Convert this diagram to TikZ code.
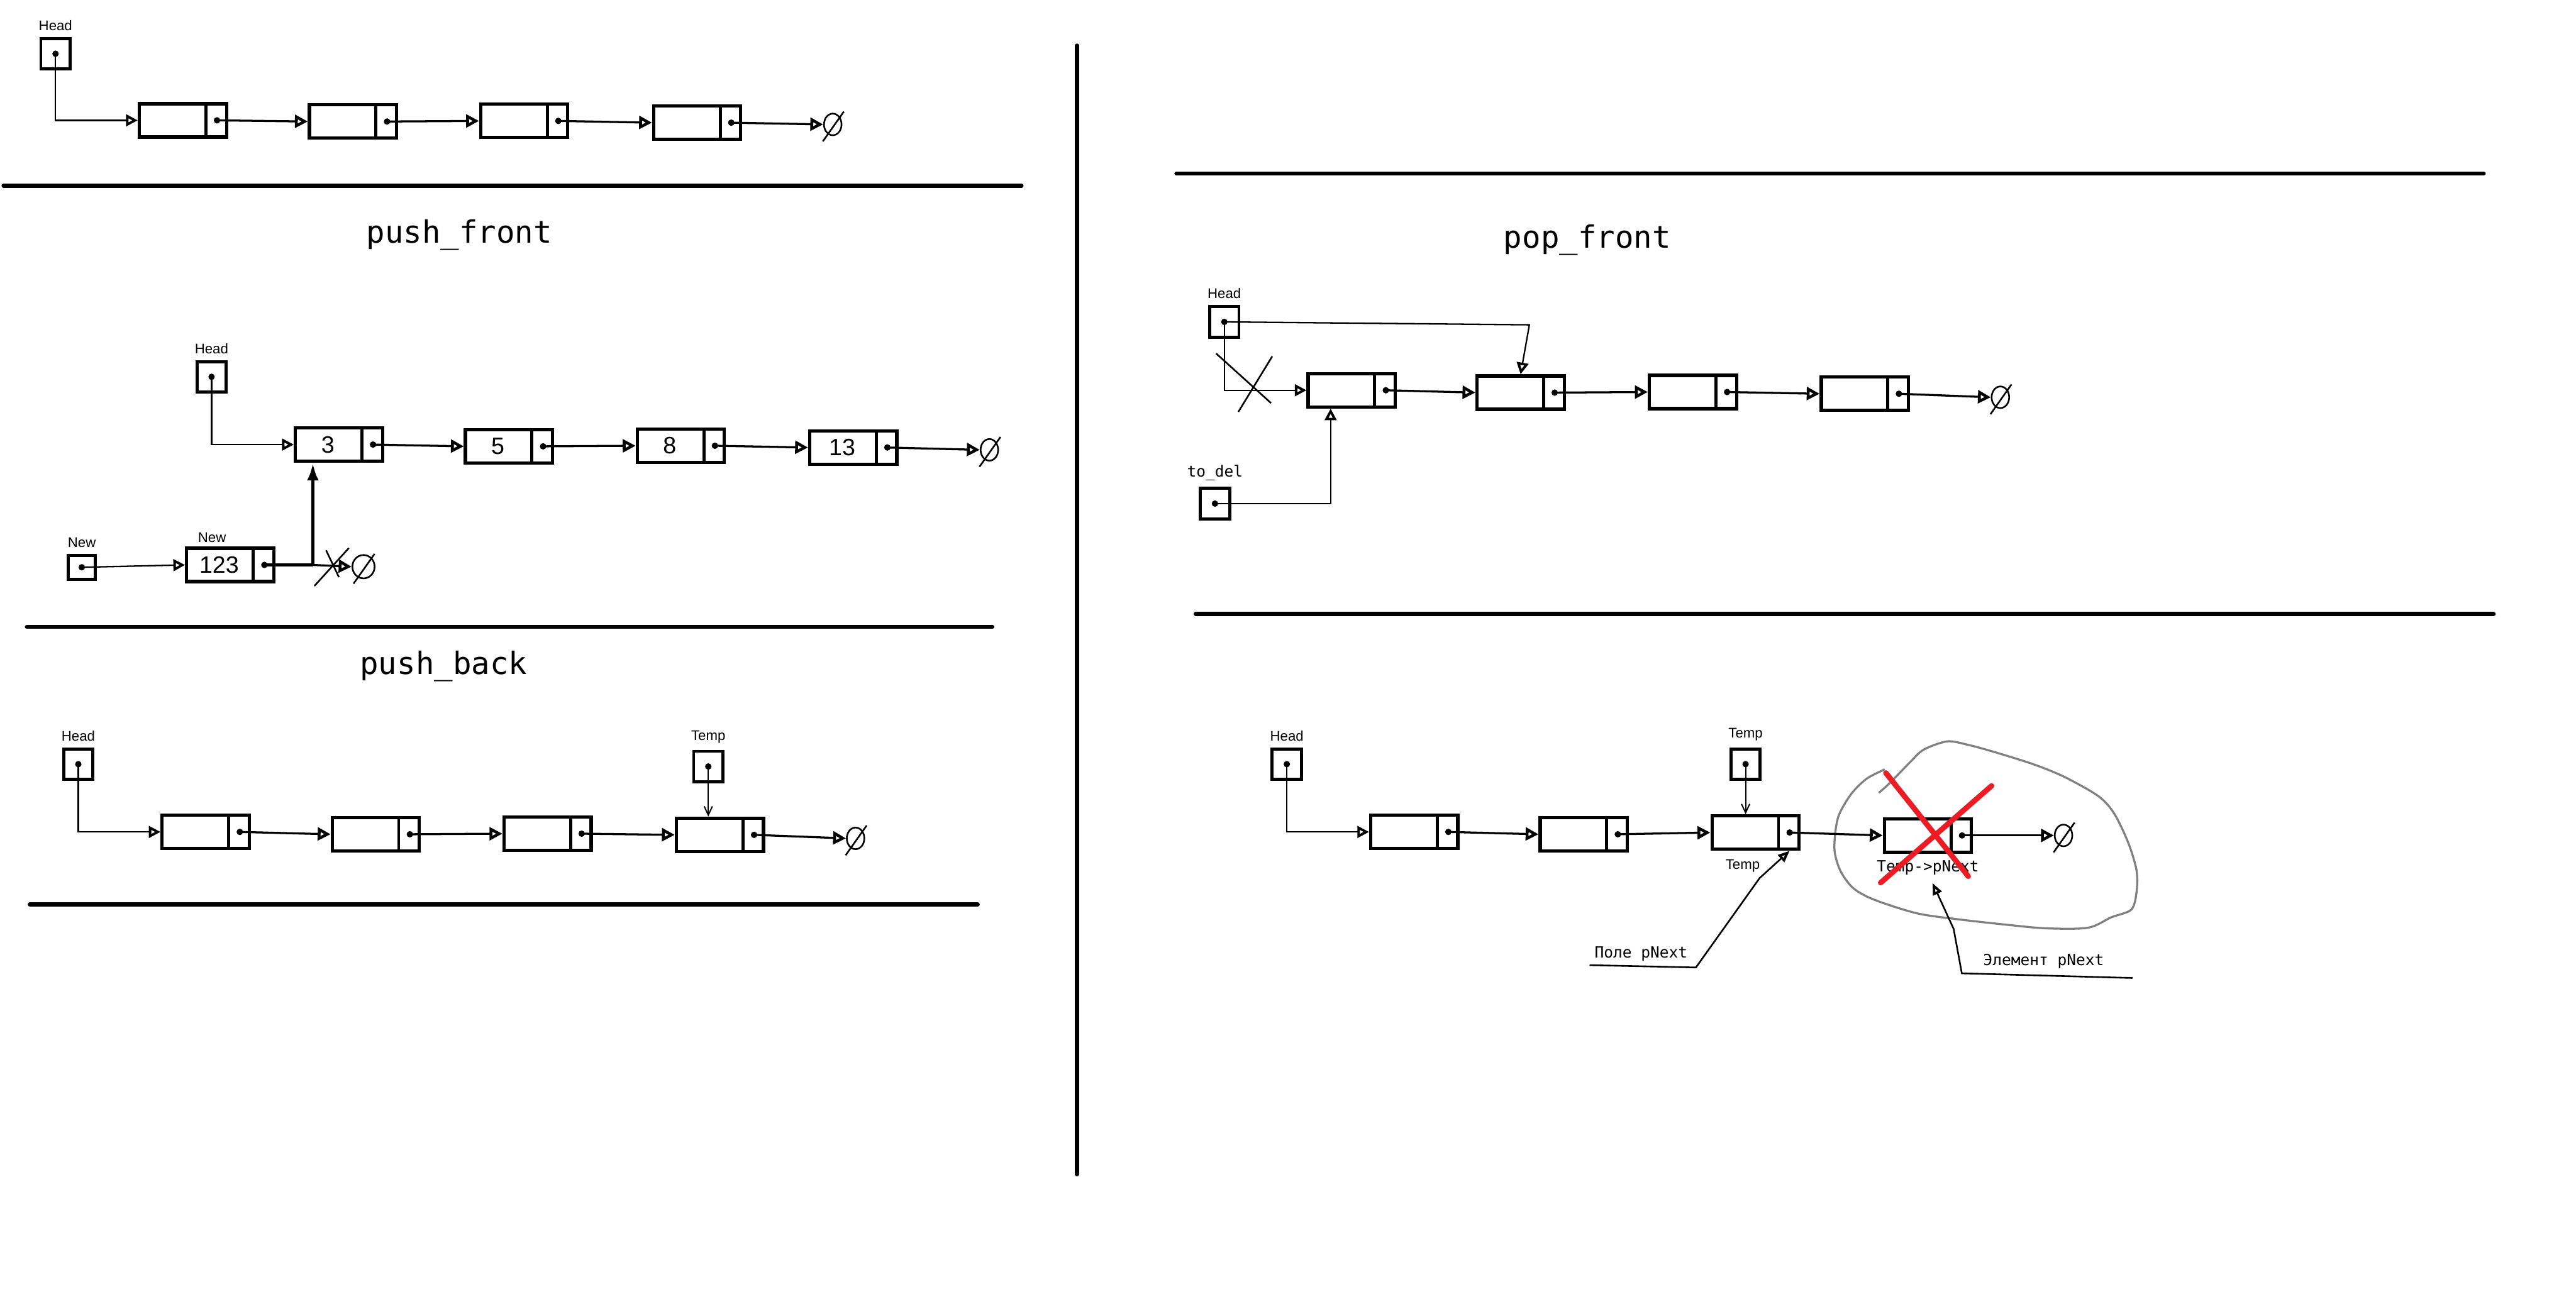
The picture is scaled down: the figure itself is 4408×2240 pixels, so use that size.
\documentclass[tikz,border=0pt]{standalone}
\usepackage{fontspec}
\usepackage{xcolor}
\usetikzlibrary{arrows.meta, positioning, shapes.geometric, calc}
\newfontfamily\monofam{DejaVu Sans Mono}
\newfontfamily\sansfam{Liberation Sans}
\definecolor{paintred}{RGB}{237,28,36}
\definecolor{blobgray}{RGB}{128,128,128}

\tikzset{
  item/.style={draw, line width=1.6pt, minimum width=1.49cm, minimum height=.57cm, inner sep=0pt},
  ptrbox/.style={draw, line width=1.5pt, minimum width=.5cm, minimum height=.52cm, inner sep=0pt},
  val/.style={font=\sansfam\fontsize{11.5}{12}\selectfont, inner sep=0pt},
  lbl/.style={font=\sansfam\fontsize{6.8}{8}\selectfont, inner sep=1pt},
  mlbl/.style={font=\monofam\fontsize{7.5}{9}\selectfont, inner sep=1pt},
  title/.style={font=\monofam\fontsize{15}{18}\selectfont},
  nil/.style={ellipse, draw, line width=.8pt, minimum width=.3cm, minimum height=.37cm, inner sep=0pt},
  link/.style={line width=1pt, -{Triangle[open, length=.22cm, width=.22cm, line width=1.4pt]}},
  ptrlink/.style={line width=.7pt, -{Triangle[open, length=.2cm, width=.2cm, line width=1.2pt]}},
  thinptr/.style={line width=.6pt, -{Straight Barb[length=.15cm, width=.14cm]}},
  newlink/.style={line width=1.7pt, -{Latex[length=.3cm, width=.2cm]}},
  note/.style={line width=.8pt, -{Triangle[open, length=.2cm, width=.16cm, line width=1.2pt]}},
  divline/.style={line width=2pt, line cap=round},
  strike/.style={line width=.8pt},
}

% list element: name, position, value
\newcommand\listnode[3]{%
  \node[item] (#1) at (#2) {};
  \node[val] (v#1) at ([xshift=-.19cm]#1.center) {#3};
  \draw[line width=1.5pt] ([xshift=-.38cm]#1.north east) -- ([xshift=-.38cm]#1.south east);
  \coordinate (p#1) at ([xshift=-.19cm]#1.east);
  \fill (p#1) circle (.055cm);
}
% pointer variable: [label style] name, position, label
\newcommand\ptrnode[4][lbl]{%
  \node[ptrbox] (#2) at (#3) {};
  \node[#1, above=2pt of #2] (l#2) {#4};
  \fill (#2.center) circle (.055cm);
}
% null
\newcommand\nilnode[3][]{%
  \node[nil, #1] (#2) at (#3) {};
  \draw[line width=.8pt] ([shift={(-17,29)}]#2.center) -- ([shift={(19,-22)}]#2.center);
}

\begin{document}
\begin{tikzpicture}[x=.01cm, y=-.01cm]
\useasboundingbox (0,0) rectangle (4408,2240);

%separators
\draw[divline] (6,318) -- (1748,318);
\draw[divline] (46,1073) -- (1698,1073);
\draw[divline] (51,1548) -- (1673,1548);
\draw[divline] (1843,78) -- (1843,2010);
\draw[divline] (2013,297) -- (4250,297);
\draw[divline] (2046,1051) -- (4267,1051);

%list
\ptrnode{hA}{95,92}{Head}
\listnode{a1}{313,206}{}
\listnode{a2}{604,208}{}
\listnode{a3}{897,207}{}
\listnode{a4}{1193,210}{}
\nilnode{nA}{1425,213}
\draw[ptrlink] (hA.center) |- (a1.west);
\foreach \i/\j in {a1/a2, a2/a3, a3/a4} \draw[link] (p\i) -- (\j.west);
\draw[link] (pa4) -- (nA.west);

%push_front
\node[title] (ttlB) at (786,402) {push\_front};
\ptrnode{hB}{362,645}{Head}
\listnode{b1}{580,761}{3}
\listnode{b2}{871,764}{5}
\listnode{b3}{1165,763}{8}
\listnode{b4}{1460,766}{13}
\nilnode{nB}{1693,770}
\draw[ptrlink] (hB.center) |- (b1.west);
\foreach \i/\j in {b1/b2, b2/b3, b3/b4} \draw[link] (p\i) -- (\j.west);
\draw[link] (pb4) -- (nB.west);

\node[ptrbox, minimum width=.46cm, minimum height=.41cm] (nw) at (140,971) {};
\node[lbl, above=2pt of nw] (lnw) {New};
\fill (nw.center) circle (.055cm);
\listnode{bn}{394,967}{123}
\node[lbl, above right=1pt and .18cm of bn.north west] (lbn) {New};
\nilnode[minimum width=.38cm, minimum height=.4cm]{nBn}{622,970}
\draw[ptrlink] (nw.center) -- (bn.west);
\coordinate (jn) at ([xshift=.83cm]pbn);
\draw[line width=1.7pt] (pbn) -- (jn);
\draw[link] (jn) -- (nBn.west);
\draw[newlink] (jn) -- (jn |- b1.south);
\draw[strike] (558,942) -- (580,988) (597,938) -- (538,1003);

%push_back
\node[title] (ttlC) at (759,1140) {push\_back};
\ptrnode{hC}{134,1308}{Head}
\listnode{c1}{352,1424}{}
\listnode{c2}{643,1428}{}
\listnode{c3}{937,1427}{}
\listnode{c4}{1232,1429}{}
\nilnode{nC}{1464,1435}
\ptrnode{tC}{1212,1312}{Temp}
\draw[ptrlink] (hC.center) |- (c1.west);
\foreach \i/\j in {c1/c2, c2/c3, c3/c4} \draw[link] (p\i) -- (\j.west);
\draw[link] (pc4) -- (nC.west);
\draw[thinptr] (tC.center) -- (tC.center |- c4.north);

%pop_front
\node[title] (ttlD) at (2716,411) {pop\_front};
\ptrnode{hD}{2095,551}{Head}
\listnode{d1}{2313,668}{}
\listnode{d2}{2602,672}{}
\listnode{d3}{2897,671}{}
\listnode{d4}{3191,674}{}
\nilnode{nD}{3423,680}
\ptrnode[mlbl]{tdD}{2079,862}{to\_del}
\coordinate (hDk) at (2617,556);
\draw[ptrlink] (hD.center) -- (hDk) -- (d2.north);
\draw[ptrlink] (hD.center) |- (d1.west);
\draw[strike] (2081,605) -- (2175,690) (2177,610) -- (2119,705);
\draw[ptrlink] (tdD.center) -| ([xshift=-.36cm]d1.south);
\foreach \i/\j in {d1/d2, d2/d3, d3/d4} \draw[link] (p\i) -- (\j.west);
\draw[link] (pd4) -- (nD.west);

%delete after Temp
\draw[blobgray, line width=1pt] plot[smooth] coordinates {(3225,1317) (3194,1333) (3167,1360)
  (3145,1400) (3139,1453) (3149,1490) (3171,1520) (3207,1540) (3279,1563) (3346,1573)
  (3435,1583) (3502,1589) (3573,1588) (3613,1570) (3647,1557) (3656,1527) (3656,1490)
  (3642,1443) (3618,1393) (3591,1363) (3533,1330) (3479,1308) (3412,1287) (3368,1275)
  (3332,1269) (3292,1283) (3270,1303) (3234,1340) (3215,1357)};
\ptrnode{hE}{2202,1308}{Head}
\listnode{e1}{2420,1424}{}
\listnode{e2}{2710,1428}{}
\listnode{e3}{3004,1425}{}
\listnode{e4}{3299,1430}{}
\nilnode{nE}{3531,1430}
\ptrnode{tE}{2987,1308}{Temp}
\node[lbl, below=3pt of e3, xshift=-.22cm] (le3) {Temp};
\node[mlbl, below=2pt of e4] (le4) {Temp->pNext};
\draw[ptrlink] (hE.center) |- (e1.west);
\foreach \i/\j in {e1/e2, e2/e3, e3/e4} \draw[link] (p\i) -- (\j.west);
\draw[link] (pe4) -- (nE.west);
\draw[thinptr] (tE.center) -- (tE.center |- e3.north);
\draw[paintred, line width=2.6pt, line cap=round] (3227,1323) -- (3368,1500) (3408,1345) -- (3218,1511);

\node[mlbl] (pnl) at (2808,1633) {Поле pNext};
\node[mlbl] (epl) at (3497,1645) {Элемент pNext};
\coordinate (pnA) at (2720,1652);
\draw[note] (pnA) -- (2902,1656) -- (3011,1503) -- (pe3 |- e3.south);
\coordinate (epA) at (3649,1674);
\draw[note] (epA) -- (3357,1666) -- (3343,1590) -- ([shift={(8,10)}]le4.south);
\end{tikzpicture}
\end{document}
